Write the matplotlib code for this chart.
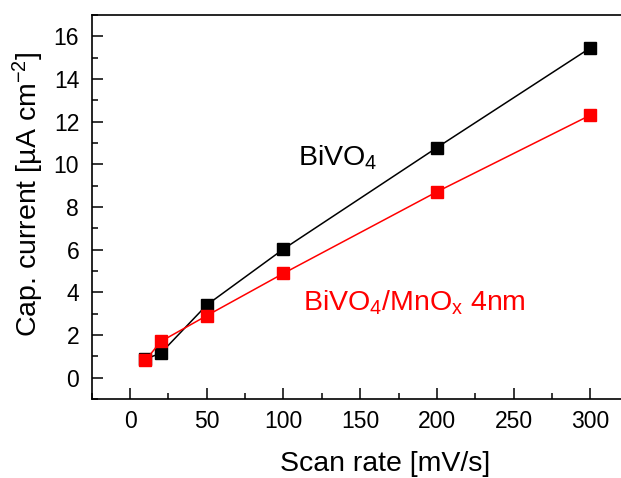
import matplotlib
matplotlib.use("Agg")
import matplotlib.pyplot as plt
from matplotlib.ticker import MultipleLocator

plt.rcParams['font.family'] = ['Liberation Sans', 'DejaVu Sans']
plt.rcParams['mathtext.fontset'] = 'custom'
plt.rcParams['mathtext.rm'] = 'Liberation Sans'
plt.rcParams['mathtext.it'] = 'Liberation Sans'

# scan rates and capacitive currents
scan_rate = [10, 20, 50, 100, 200, 300]
bivo4 = [0.88, 1.15, 3.41, 6.03, 10.78, 15.45]
bivo4_mnox = [0.81, 1.70, 2.91, 4.89, 8.71, 12.3]

fig = plt.figure(figsize=(6.21, 4.78), dpi=100)
ax = fig.add_axes([0.1477, 0.165, 0.8523, 0.804])

ax.plot(scan_rate, bivo4, color='black', lw=1.1, marker='s', ms=8.5, zorder=3)
ax.plot(scan_rate, bivo4_mnox, color='#ff0000', lw=1.1, marker='s', ms=8.5, zorder=3)

ax.set_xlim(-25, 320)
ax.set_ylim(-1, 17)
ax.xaxis.set_major_locator(MultipleLocator(50))
ax.xaxis.set_minor_locator(MultipleLocator(25))
ax.yaxis.set_major_locator(MultipleLocator(2))
ax.yaxis.set_minor_locator(MultipleLocator(1))
ax.tick_params(which='both', direction='in', width=1.1, labelsize=16.5)
ax.tick_params(axis='x', pad=8)
ax.tick_params(axis='y', pad=9)
ax.tick_params(which='major', length=8)
ax.tick_params(which='minor', length=4)
for s in ax.spines.values():
    s.set_linewidth(1.2)
ax.spines['right'].set_visible(False)

ax.set_xlabel('Scan rate [mV/s]', fontsize=20.5)
ax.set_ylabel('Cap. current [\u00b5A cm$^{-2}$]', fontsize=20.5)
ax.xaxis.set_label_coords(0.554, -0.135)
ax.yaxis.set_label_coords(-0.087, 0.533)

ax.text(109.5, 9.92, 'BiVO$_4$', fontsize=20.5, color='black', va='baseline', ha='left')
ax.text(113, 3.14, 'BiVO$_4$/MnO$_x$ 4nm', fontsize=20.5, color='#ff0000', va='baseline', ha='left')

fig.savefig('out.png', dpi=100)
